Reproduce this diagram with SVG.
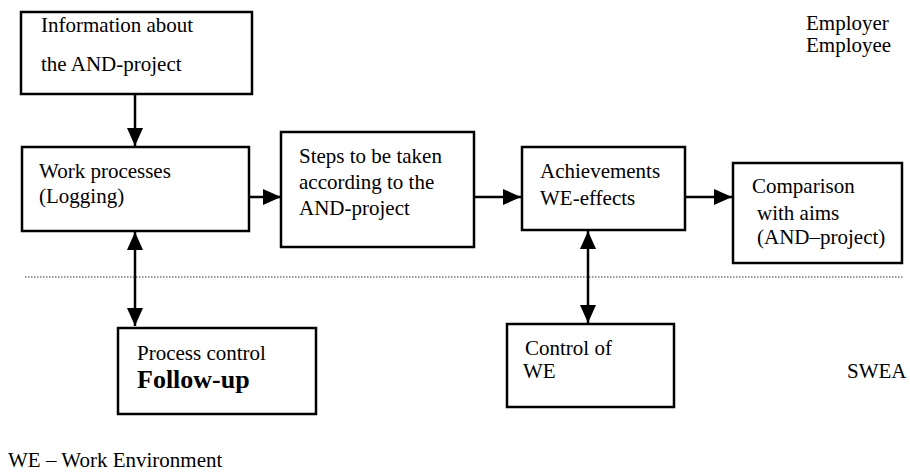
<svg xmlns="http://www.w3.org/2000/svg" width="910" height="475" viewBox="0 0 910 475">
<style>
.box{fill:#fff;stroke:#000;stroke-width:2.5}
text{font-family:'Liberation Serif','Times New Roman','DejaVu Serif',serif;font-size:21px;fill:#000}
.b{font-weight:bold;font-size:26px}
.c{stroke:#000;stroke-width:2.5;fill:none}
</style>
<defs>
<marker id="ah" viewBox="0 0 18 16" refX="18" refY="8" markerWidth="18" markerHeight="16" markerUnits="userSpaceOnUse" orient="auto-start-reverse">
<path d="M0,0 L18,8 L0,16 Z" fill="#000"/>
</marker>
</defs>
<rect width="910" height="475" fill="#fff"/>
<g id="connectors">
<line class="c" x1="135" y1="94" x2="135" y2="146" marker-end="url(#ah)"/>
<line class="c" x1="249" y1="197" x2="281" y2="197" marker-end="url(#ah)"/>
<line class="c" x1="474" y1="197" x2="521" y2="197" marker-end="url(#ah)"/>
<line class="c" x1="685" y1="197" x2="732" y2="197" marker-end="url(#ah)"/>
<line class="c" x1="135" y1="232" x2="135" y2="326" marker-start="url(#ah)" marker-end="url(#ah)"/>
<line class="c" x1="588" y1="231" x2="588" y2="323" marker-start="url(#ah)" marker-end="url(#ah)"/>
<line x1="25" y1="277" x2="903" y2="277" stroke="#333" stroke-width="1.2" stroke-dasharray="1.5,1.5"/>
</g>
<g id="info">
<rect class="box" x="21" y="12" width="231" height="82"/>
<text font-family="Liberation Serif, serif" x="41" y="32">Information about</text>
<text font-family="Liberation Serif, serif" x="41" y="71">the AND-project</text>
</g>
<g id="work">
<rect class="box" x="22" y="147" width="227" height="84"/>
<text x="39" y="178">Work processes</text>
<text x="39" y="203">(Logging)</text>
</g>
<g id="steps">
<rect class="box" x="281" y="132" width="193" height="115"/>
<text x="299" y="163">Steps to be taken</text>
<text x="299" y="189">according to the</text>
<text x="299" y="215">AND-project</text>
</g>
<g id="achievements">
<rect class="box" x="522" y="147" width="163" height="83"/>
<text x="540" y="178">Achievements</text>
<text x="540" y="205">WE-effects</text>
</g>
<g id="comparison">
<rect class="box" x="733" y="163" width="169" height="100"/>
<text x="752" y="193">Comparison</text>
<text x="757" y="220">with aims</text>
<text x="757" y="244">(AND–project)</text>
</g>
<g id="process">
<rect class="box" x="118" y="328" width="198" height="86"/>
<text x="137" y="360">Process control</text>
<text class="b" x="137" y="388">Follow-up</text>
</g>
<g id="control">
<rect class="box" x="507" y="324" width="167" height="83"/>
<text x="525" y="355">Control of</text>
<text x="523" y="378">WE</text>
</g>
<g id="labels">
<text x="806" y="30">Employer</text>
<text x="806" y="52">Employee</text>
<text x="847" y="378">SWEA</text>
<text x="8" y="467">WE – Work Environment</text>
</g>
</svg>
